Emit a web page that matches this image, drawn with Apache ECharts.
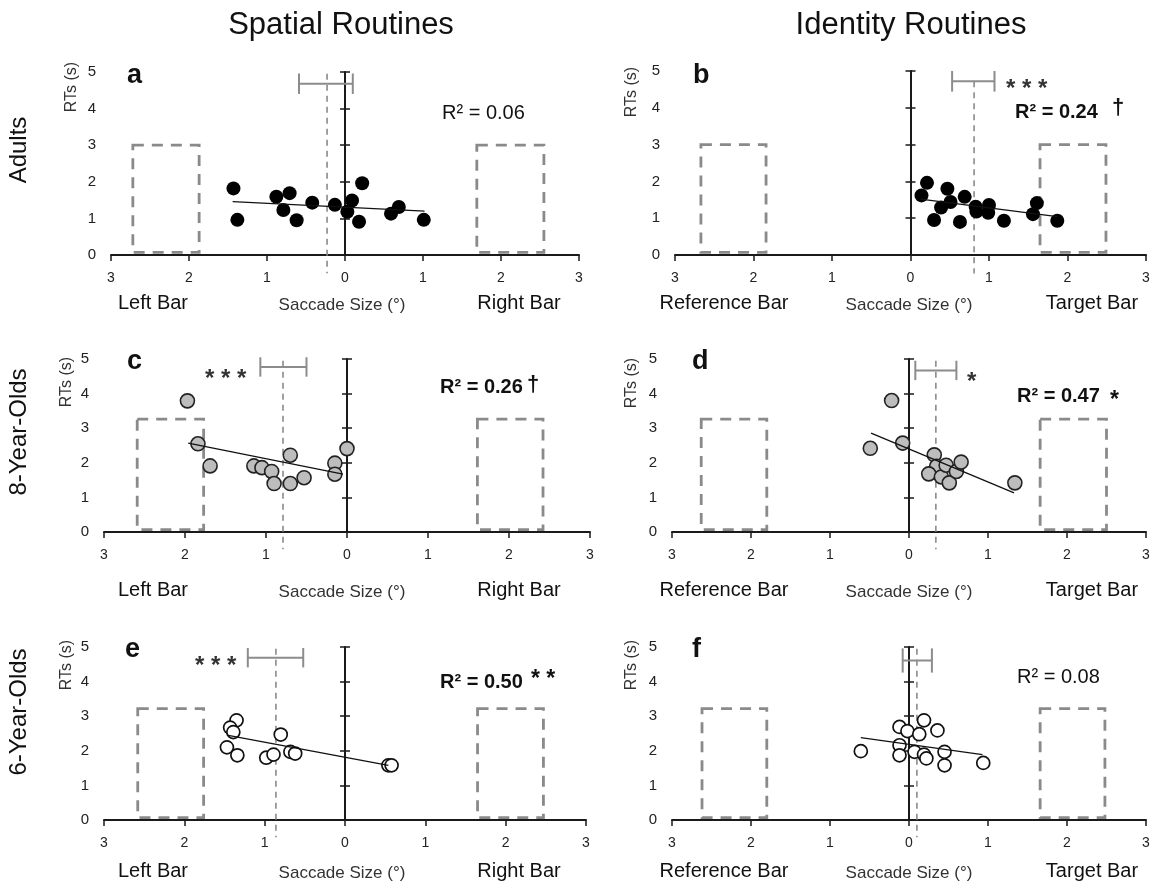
<!DOCTYPE html>
<html><head><meta charset="utf-8">
<script src="https://cdn.jsdelivr.net/npm/echarts@6.0.0/dist/echarts.min.js"></script>
<style>html,body{margin:0;padding:0;background:#fff}#c{width:1151px;height:885px}</style>
</head><body><div id="c"></div>
<script>
// ---------- text ----------
const columnTitles = ['Spatial Routines', 'Identity Routines'];
const rowTitles = ['Adults', '8-Year-Olds', '6-Year-Olds'];
const panelLetters = ['a', 'b', 'c', 'd', 'e', 'f'];
const leftBarLabels = ['Left Bar', 'Reference Bar'];
const rightBarLabels = ['Right Bar', 'Target Bar'];
const xAxisTitle = 'Saccade Size (°)';
const yAxisTitle = 'RTs (s)';
const xTickMin = -3, xTickMax = 3, xTickStep = 1;   // labels shown as absolute values
const yTickMin = 0, yTickMax = 5, yTickStep = 1;

// ---------- panel a : Adults, spatial ----------
const aSaccade = [-1.43, -1.38, -0.88, -0.71, -0.79, -0.62, -0.42, -0.13, 0.03, 0.09, 0.18, 0.22, 0.59, 0.69, 1.01];
const aRT      = [1.82, 0.96, 1.59, 1.69, 1.23, 0.95, 1.43, 1.37, 1.18, 1.49, 0.91, 1.96, 1.13, 1.31, 0.96];
const aFitX = [-1.44, 1.02];
const aFitY = [1.46, 1.20];
const aMean = -0.23;
const aSE = [-0.59, 0.10];
const aBarEdges = [-2.72, -1.87, 1.69, 2.55];
const aBarTop = 3.0;
const aR2 = 'R² = 0.06', aR2Sig = '', aMeanSig = '';

// ---------- panel b : Adults, identity ----------
const bSaccade = [0.14, 0.21, 0.30, 0.39, 0.47, 0.51, 0.63, 0.69, 0.83, 1.00, 0.99, 1.19, 1.61, 1.56, 1.87, 0.84];
const bRT      = [1.62, 1.96, 0.95, 1.29, 1.80, 1.44, 0.90, 1.58, 1.31, 1.36, 1.15, 0.93, 1.41, 1.11, 0.93, 1.18];
const bFitX = [0.13, 1.87];
const bFitY = [1.52, 1.04];
const bMean = 0.81;
const bSE = [0.53, 1.07];
const bBarEdges = [-2.67, -1.84, 1.65, 2.49];
const bBarTop = 3.0;
const bR2 = 'R² = 0.24', bR2Sig = '†', bMeanSig = '* * *';

// ---------- panel c : 8-year-olds, spatial ----------
const cSaccade = [-1.97, -1.84, -1.69, -1.15, -1.05, -0.93, -0.90, -0.70, -0.70, -0.53, -0.15, -0.15, 0.00];
const cRT      = [3.79, 2.55, 1.91, 1.91, 1.86, 1.75, 1.40, 2.22, 1.40, 1.57, 1.99, 1.67, 2.41];
const cFitX = [-1.96, -0.05];
const cFitY = [2.57, 1.67];
const cMean = -0.79;
const cSE = [-1.07, -0.50];
const cBarEdges = [-2.59, -1.77, 1.61, 2.42];
const cBarTop = 3.26;
const cR2 = 'R² = 0.26', cR2Sig = '†', cMeanSig = '* * *';

// ---------- panel d : 8-year-olds, identity ----------
const dSaccade = [-0.22, -0.49, -0.08, 0.32, 0.35, 0.25, 0.41, 0.47, 0.51, 0.60, 0.66, 1.34];
const dRT      = [3.80, 2.42, 2.57, 2.23, 1.90, 1.68, 1.59, 1.93, 1.42, 1.75, 2.02, 1.42];
const dFitX = [-0.48, 1.33];
const dFitY = [2.86, 1.13];
const dMean = 0.34;
const dSE = [0.08, 0.60];
const dBarEdges = [-2.63, -1.80, 1.66, 2.50];
const dBarTop = 3.26;
const dR2 = 'R² = 0.47', dR2Sig = '*', dMeanSig = '*';

// ---------- panel e : 6-year-olds, spatial ----------
const eSaccade = [-1.35, -1.43, -1.39, -1.47, -1.34, -0.98, -0.89, -0.80, -0.68, -0.62, 0.54, 0.58];
const eRT      = [2.88, 2.67, 2.54, 2.10, 1.87, 1.80, 1.89, 2.47, 1.97, 1.92, 1.58, 1.58];
const eFitX = [-1.47, 0.54];
const eFitY = [2.45, 1.58];
const eMean = -0.86;
const eSE = [-1.21, -0.52];
const eBarEdges = [-2.58, -1.76, 1.65, 2.47];
const eBarTop = 3.22;
const eR2 = 'R² = 0.50', eR2Sig = '* *', eMeanSig = '* * *';

// ---------- panel f : 6-year-olds, identity ----------
const fSaccade = [-0.61, -0.12, -0.02, -0.12, -0.12, 0.19, 0.13, 0.36, 0.07, 0.19, 0.22, 0.45, 0.45, 0.94];
const fRT      = [1.99, 2.69, 2.57, 2.16, 1.87, 2.88, 2.48, 2.59, 1.97, 1.89, 1.78, 1.97, 1.58, 1.65];
const fFitX = [-0.61, 0.93];
const fFitY = [2.38, 1.89];
const fMean = 0.10;
const fSE = [-0.08, 0.29];
const fBarEdges = [-2.62, -1.80, 1.66, 2.48];
const fBarTop = 3.22;
const fR2 = 'R² = 0.08', fR2Sig = '', fMeanSig = '';

// ---------- assemble ----------
const panels = [
  {sacc: aSaccade, rt: aRT, fitX: aFitX, fitY: aFitY, mean: aMean, se: aSE, bars: aBarEdges, barTop: aBarTop, r2: aR2, r2Sig: aR2Sig, meanSig: aMeanSig},
  {sacc: bSaccade, rt: bRT, fitX: bFitX, fitY: bFitY, mean: bMean, se: bSE, bars: bBarEdges, barTop: bBarTop, r2: bR2, r2Sig: bR2Sig, meanSig: bMeanSig},
  {sacc: cSaccade, rt: cRT, fitX: cFitX, fitY: cFitY, mean: cMean, se: cSE, bars: cBarEdges, barTop: cBarTop, r2: cR2, r2Sig: cR2Sig, meanSig: cMeanSig},
  {sacc: dSaccade, rt: dRT, fitX: dFitX, fitY: dFitY, mean: dMean, se: dSE, bars: dBarEdges, barTop: dBarTop, r2: dR2, r2Sig: dR2Sig, meanSig: dMeanSig},
  {sacc: eSaccade, rt: eRT, fitX: eFitX, fitY: eFitY, mean: eMean, se: eSE, bars: eBarEdges, barTop: eBarTop, r2: eR2, r2Sig: eR2Sig, meanSig: eMeanSig},
  {sacc: fSaccade, rt: fRT, fitX: fFitX, fitY: fFitY, mean: fMean, se: fSE, bars: fBarEdges, barTop: fBarTop, r2: fR2, r2Sig: fR2Sig, meanSig: fMeanSig}
];

// layout (pixels) and styling
const FONT = "'Liberation Sans', Arial, Helvetica, sans-serif";
const layout = [
  {left: 111, top: 72,  width: 468, height: 183, errY: 4.68, capH: 0.28, meanTop: 4.95, r2: [442, 113], r2Bold: false, sig: [0, 0], mSig: [0, 0], letter: [127, 76], rts: [72, 87], lab: 303},
  {left: 675, top: 71,  width: 471, height: 184, errY: 4.72, capH: 0.28, meanTop: 4.72, r2: [1015, 112], r2Bold: true, sig: [1112, 108], mSig: [1006, 89], letter: [693, 76], rts: [632, 92], lab: 303},
  {left: 104, top: 359, width: 486, height: 173, errY: 4.77, capH: 0.28, meanTop: 4.95, r2: [440, 387], r2Bold: true, sig: [527, 385], mSig: [205, 379], letter: [127, 362], rts: [67, 382], lab: 590},
  {left: 672, top: 359, width: 474, height: 173, errY: 4.67, capH: 0.28, meanTop: 4.95, r2: [1017, 396], r2Bold: true, sig: [1110, 401], mSig: [967, 382], letter: [692, 362], rts: [632, 383], lab: 590},
  {left: 104, top: 647, width: 482, height: 173, errY: 4.69, capH: 0.28, meanTop: 4.95, r2: [440, 682], r2Bold: true, sig: [531, 680], mSig: [195, 666], letter: [125, 650], rts: [67, 665], lab: 871},
  {left: 672, top: 647, width: 474, height: 173, errY: 4.61, capH: 0.35, meanTop: 4.95, r2: [1017, 677], r2Bold: false, sig: [0, 0], mSig: [0, 0], letter: [692, 650], rts: [632, 665], lab: 871}
];
const pointStyles = [
  {color: '#000', borderColor: '#000', borderWidth: 0, size: 14},
  {color: '#000', borderColor: '#000', borderWidth: 0, size: 14},
  {color: '#bdbdbd', borderColor: '#222', borderWidth: 1.6, size: 14},
  {color: '#bdbdbd', borderColor: '#222', borderWidth: 1.6, size: 14},
  {color: '#fff', borderColor: '#111', borderWidth: 1.7, size: 13},
  {color: '#fff', borderColor: '#111', borderWidth: 1.7, size: 13}
];
const BAR_BOTTOM = 0.07;
const MEAN_BOTTOM = -0.5;

const grid = [], xAxis = [], yAxis = [], series = [], texts = [];

function txt(x, y, text, size, o) {
  o = o || {};
  return {type: 'text', x: x, y: y, rotation: o.rot || 0, z: 100, silent: true,
    style: {text: text, x: 0, y: 0, fill: o.color || '#111', fontSize: size,
      fontWeight: o.bold ? 'bold' : 'normal', fontFamily: FONT,
      align: o.align || 'center', verticalAlign: 'middle'}};
}

panels.forEach((p, i) => {
  const L = layout[i];
  const col = i % 2;
  grid.push({left: L.left, top: L.top, width: L.width, height: L.height, outerBoundsMode: 'none', containLabel: false});
  xAxis.push({type: 'value', gridIndex: i, min: xTickMin, max: xTickMax, interval: xTickStep,
    axisLine: {onZero: true, lineStyle: {color: '#1a1a1a', width: 2}},
    axisTick: {show: true, length: 6, lineStyle: {color: '#1a1a1a', width: 1.5}},
    axisLabel: {formatter: v => String(Math.abs(v)), fontSize: 14, color: '#222', margin: 16, fontFamily: FONT, showMinLabel: true, showMaxLabel: true},
    splitLine: {show: false}});
  // label axis at the left edge
  yAxis.push({type: 'value', gridIndex: i, position: 'left', min: yTickMin, max: yTickMax, interval: yTickStep,
    axisLine: {show: false, onZero: false}, axisTick: {show: false},
    axisLabel: {fontSize: 15, color: '#222', margin: 15, fontFamily: FONT}, splitLine: {show: false}});
  // axis line at x = 0 with ticks to the right
  yAxis.push({type: 'value', gridIndex: i, position: 'left', min: yTickMin, max: yTickMax, interval: yTickStep,
    axisLine: {show: true, onZero: true, onZeroAxisIndex: i, lineStyle: {color: '#1a1a1a', width: 2}},
    axisTick: {show: true, inside: true, length: 5, lineStyle: {color: '#1a1a1a', width: 1.5}},
    axisLabel: {show: false}, splitLine: {show: false}});
  // ticks to the left at x = 0
  yAxis.push({type: 'value', gridIndex: i, position: 'left', min: yTickMin, max: yTickMax, interval: yTickStep,
    axisLine: {show: false, onZero: true, onZeroAxisIndex: i},
    axisTick: {show: true, inside: false, length: 5, lineStyle: {color: '#1a1a1a', width: 1.5}},
    axisLabel: {show: false}, splitLine: {show: false}});

  const yi = 3 * i;
  // dashed bar outlines
  series.push({type: 'custom', xAxisIndex: i, yAxisIndex: yi, clip: false, silent: true, z: 2,
    data: [[p.bars[0], p.bars[1]], [p.bars[2], p.bars[3]]],
    encode: {x: [0, 1]},
    renderItem: (params, api) => {
      const a = api.coord([api.value(0), p.barTop]);
      const b = api.coord([api.value(1), BAR_BOTTOM]);
      return {type: 'rect', shape: {x: a[0], y: a[1], width: b[0] - a[0], height: b[1] - a[1]},
        style: {fill: 'none', stroke: '#8a8a8a', lineWidth: 2.8, lineDash: [11, 8]}};
    }});
  // mean saccade dashed line
  series.push({type: 'custom', xAxisIndex: i, yAxisIndex: yi, clip: false, silent: true, z: 3,
    data: [[p.mean]], encode: {x: 0},
    renderItem: (params, api) => {
      const a = api.coord([api.value(0), L.meanTop]);
      const b = api.coord([api.value(0), MEAN_BOTTOM]);
      return {type: 'line', shape: {x1: a[0], y1: a[1], x2: b[0], y2: b[1]},
        style: {stroke: '#8a8a8a', lineWidth: 1.6, lineDash: [6, 5]}};
    }});
  // error bar of mean saccade
  series.push({type: 'custom', xAxisIndex: i, yAxisIndex: yi, clip: false, silent: true, z: 3,
    data: [[p.se[0], p.se[1]]], encode: {x: [0, 1]},
    renderItem: (params, api) => {
      const l = api.coord([api.value(0), L.errY]);
      const r = api.coord([api.value(1), L.errY]);
      const t = api.coord([api.value(0), L.errY + L.capH]);
      const bt = api.coord([api.value(0), L.errY - L.capH]);
      const st = {stroke: '#8c8c8c', lineWidth: 2};
      return {type: 'group', children: [
        {type: 'line', shape: {x1: l[0], y1: l[1], x2: r[0], y2: r[1]}, style: st},
        {type: 'line', shape: {x1: l[0], y1: t[1], x2: l[0], y2: bt[1]}, style: st},
        {type: 'line', shape: {x1: r[0], y1: t[1], x2: r[0], y2: bt[1]}, style: st}
      ]};
    }});
  // points
  const ps = pointStyles[i];
  series.push({type: 'scatter', xAxisIndex: i, yAxisIndex: yi, z: 4, symbol: 'circle', symbolSize: ps.size,
    data: p.sacc.map((x, k) => [x, p.rt[k]]),
    itemStyle: {color: ps.color, borderColor: ps.borderColor, borderWidth: ps.borderWidth, opacity: 1}});
  // regression line
  series.push({type: 'line', xAxisIndex: i, yAxisIndex: yi, z: 5, symbol: 'none', silent: true,
    data: p.fitX.map((x, k) => [x, p.fitY[k]]),
    lineStyle: {color: '#111', width: 1.3}});

  // texts
  texts.push(txt(L.letter[0], L.letter[1], panelLetters[i], 27, {bold: true, align: 'left'}));
  texts.push(txt(L.rts[0], L.rts[1], yAxisTitle, 16, {rot: Math.PI / 2, color: '#333'}));
  texts.push(txt(L.r2[0], L.r2[1], p.r2, 20, {bold: L.r2Bold, align: 'left'}));
  if (p.r2Sig) texts.push(txt(L.sig[0], L.sig[1], p.r2Sig, p.r2Sig === '†' ? 22 : 23, {bold: true, align: 'left'}));
  if (p.meanSig) texts.push(txt(L.mSig[0], L.mSig[1], p.meanSig, 24, {bold: true, align: 'left', color: '#333'}));
  const leftCenter = col === 0 ? 153 : 724;
  const rightCenter = col === 0 ? 519 : 1092;
  const midCenter = col === 0 ? 342 : 909;
  texts.push(txt(leftCenter, L.lab, leftBarLabels[col], 20));
  texts.push(txt(rightCenter, L.lab, rightBarLabels[col], 20));
  texts.push(txt(midCenter, L.lab + 2, xAxisTitle, 17, {color: '#333'}));
});

texts.push(txt(341, 25, columnTitles[0], 31));
texts.push(txt(911, 25, columnTitles[1], 31));
texts.push(txt(19, 150, rowTitles[0], 24, {rot: Math.PI / 2}));
texts.push(txt(19, 432, rowTitles[1], 24, {rot: Math.PI / 2}));
texts.push(txt(19, 712, rowTitles[2], 24, {rot: Math.PI / 2}));

const chart = echarts.init(document.getElementById('c'), null, {renderer: 'canvas'});
chart.setOption({
  backgroundColor: '#fff',
  animation: false,
  textStyle: {fontFamily: FONT},
  grid: grid, xAxis: xAxis, yAxis: yAxis, series: series,
  graphic: {elements: texts}
});
</script></body></html>
